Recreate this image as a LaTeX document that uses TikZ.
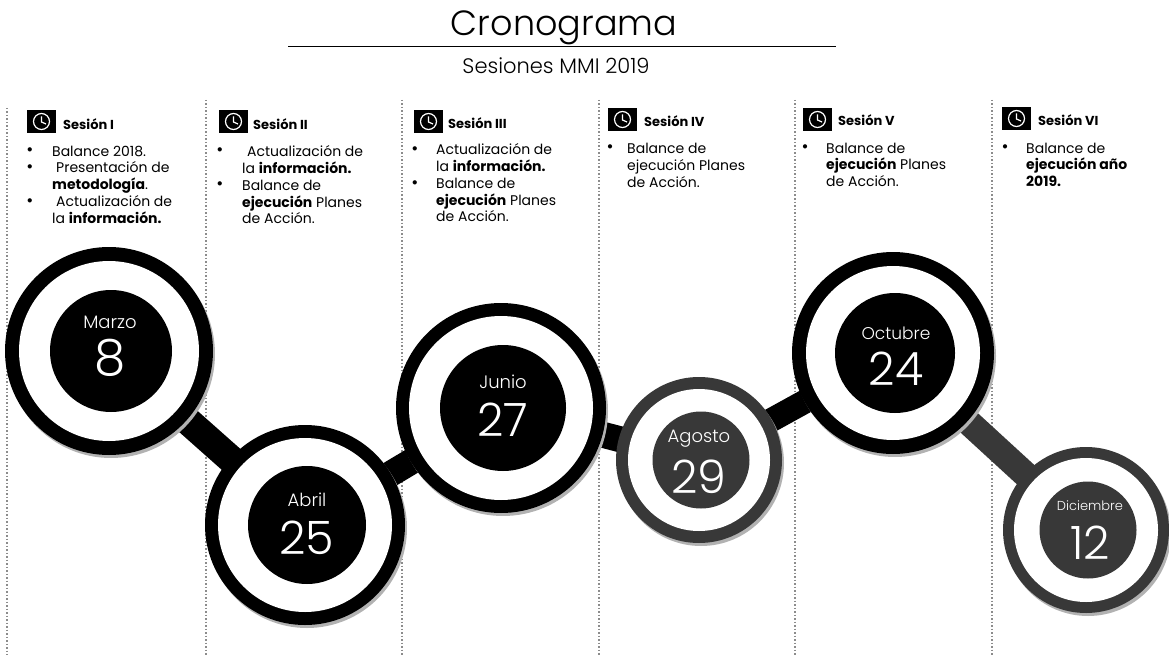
\documentclass[tikz,border=0pt]{standalone}
\usepackage{fontspec}
\setmainfont{Poppins}
\newfontfamily\thinfont{Poppins Light}
\definecolor{halfd}{gray}{0.22}
\tikzset{
  x=1pt,y=-1pt,
  titletext/.style={font=\thinfont\fontsize{35}{37}\selectfont,inner sep=0pt},
  subtext/.style={font=\thinfont\fontsize{21}{23}\selectfont,inner sep=0pt},
  headtext/.style={font=\bfseries\fontsize{13}{15}\selectfont,anchor=west,inner sep=0pt},
  bodytext/.style={font=\fontsize{14}{16.8}\selectfont,anchor=north west,inner sep=0pt,align=left},
  bullettext/.style={font=\bfseries\fontsize{14}{14}\selectfont,inner sep=0pt},
  monthtext/.style={text=white,font=\thinfont\fontsize{#1}{#1}\selectfont,inner sep=0pt},
  daytext/.style={text=white,font=\thinfont\fontsize{#1}{#1}\selectfont,inner sep=0pt},
  rule/.style={draw=black,line width=1.6pt},
  guide/.style={draw=black!45,line width=1.2pt,dash pattern=on 1.5pt off 2pt},
  bar/.style={line width=#1,draw=black},
  shade/.style={fill=black!30,draw=none},
}
\newcommand{\clockicon}[2]{%
  \fill[black] (#1,#2) rectangle ++(29,23);
  \draw[white,line width=1.2pt] (#1+14.5,#2+11.5) circle[radius=8];
  \draw[white,line width=1.2pt] (#1+14.5,#2+6.5) -- (#1+14.5,#2+12) -- (#1+19,#2+14);
}
\newcommand{\medal}[7]{% x y Rout Rin Rdisc colour name
  \fill[shade] (#1+2,#2+3) circle[radius=#3];
  \fill[#6] (#1,#2) circle[radius=#3];
  \fill[white] (#1,#2) circle[radius=#4];
  \node[circle,fill=#6,minimum size=2*#5,inner sep=0pt] (#7) at (#1+2,#2) {};
}
\begin{document}
\begin{tikzpicture}
\useasboundingbox (0,0) rectangle (1169,655);
% guides
\draw[guide,line width=2.5pt] (7,108) -- (7,655);
\foreach \gx in {206,402,599,795,992} \draw[guide] (\gx,100) -- (\gx,655);
% title
\node[titletext] (title) at (564,28) {Cronograma};
\coordinate (ruleL) at (288,46.5);
\coordinate (ruleR) at (836,46.5);
\draw[rule] (ruleL) -- (ruleR);
\node[subtext] (subtitle) at (556,66) {Sesiones MMI 2019};
% connector anchors
\coordinate (c1) at (109,351);
\coordinate (c2) at (305,525);
\coordinate (c3) at (501,408);
\coordinate (c4) at (699,460);
\coordinate (c5) at (893,353);
\coordinate (c6) at (1086,530);
\draw[bar=28pt] (c1) -- (c2);
\draw[bar=26pt] (c2) -- (c3);
\draw[bar=26pt] (c3) -- (c4);
\draw[bar=24pt] (c4) -- (c5);
\draw[bar=26pt,draw=halfd] (c5) -- (c6);
% medals
\medal{109}{351}{104}{90}{61}{black}{d1}
\medal{305}{525}{100}{87}{59}{black}{d2}
\medal{501}{408}{105}{92}{63}{black}{d3}
\medal{699}{460}{83}{71}{48.5}{halfd}{d4}
\medal{893}{353}{101}{87}{60}{black}{d5}
\medal{1086}{530}{83}{72}{48.5}{halfd}{d6}
% months / days
\node[monthtext=18] (m1) at (110,322) {Marzo};
\node[daytext=50] (n1) at (110,358) {8};
\node[monthtext=18] (m2) at (307,500) {Abril};
\node[daytext=46] (n2) at (307,538) {25};
\node[monthtext=18] (m3) at (503,382) {Junio};
\node[daytext=46] (n3) at (503,420) {27};
\node[monthtext=18] (m4) at (699,439) {Agosto};
\node[daytext=46] (n4) at (699,477) {29};
\node[monthtext=17] (m5) at (896,333) {Octubre};
\node[daytext=46] (n5) at (896,369) {24};
\node[monthtext=13] (m6) at (1090,506) {Diciembre};
\node[daytext=46] (n6) at (1090,543) {12};
% headers
\clockicon{27}{110}
\node[headtext] (h1) at (63,124) {Sesión I};
\clockicon{219}{110}
\node[headtext] (h2) at (253,124) {Sesión II};
\clockicon{414}{110}
\node[headtext] (h3) at (448,123) {Sesión III};
\clockicon{608}{108}
\node[headtext] (h4) at (644,121) {Sesión IV};
\clockicon{803}{108}
\node[headtext] (h5) at (838,120) {Sesión V};
\clockicon{1002}{107}
\node[headtext] (h6) at (1038,120) {Sesión VI};
% bodies
\node[bodytext] (b1) at (52,145.5) {Balance 2018.\\\hspace*{4pt}Presentación de\\\textbf{metodología}.\\\hspace*{4pt}Actualización de\\la \textbf{información.}};
\foreach \by in {151,168,202} \node[bullettext] at (30,\by) {•};
\node[bodytext] (b2) at (242,145.5) {\hspace*{5pt}Actualización de\\la \textbf{información.}\\Balance de\\\textbf{ejecución} Planes\\de Acción.};
\foreach \by in {151,185} \node[bullettext] at (220,\by) {•};
\node[bodytext] (b3) at (436,143.5) {Actualización de\\la \textbf{información.}\\Balance de\\\textbf{ejecución} Planes\\de Acción.};
\foreach \by in {150,184} \node[bullettext] at (415,\by) {•};
\node[bodytext] (b4) at (627,143) {Balance de\\ejecución Planes\\de Acción.};
\node[bullettext] at (610,148) {•};
\node[bodytext] (b5) at (826,142.5) {Balance de\\\textbf{ejecución} Planes\\de Acción.};
\node[bullettext] at (805,148) {•};
\node[bodytext] (b6) at (1026,142.5) {Balance de\\\textbf{ejecución año}\\\textbf{2019.}};
\node[bullettext] at (1005,148) {•};
\end{tikzpicture}
\end{document}
